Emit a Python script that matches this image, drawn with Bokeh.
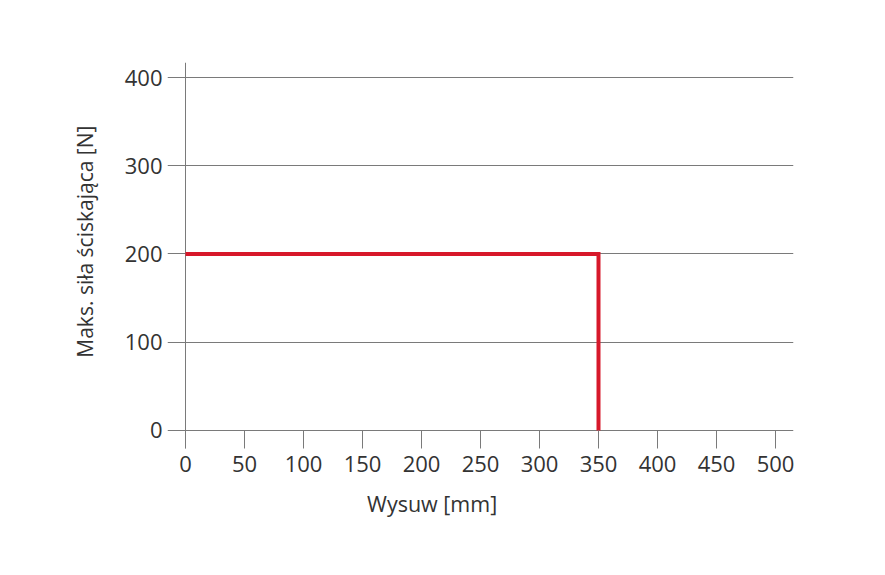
import math
from bokeh.plotting import figure
from bokeh.models import FixedTicker, Range1d, Label
from bokeh.embed import file_html
from bokeh.resources import INLINE

# data
wysuw = [0, 350, 350]
sila = [200, 200, 0]
x_ticks = [0, 50, 100, 150, 200, 250, 300, 350, 400, 450, 500]
y_ticks = [0, 100, 200, 300, 400]
x_title = "Wysuw [mm]"
y_title = "Maks. siła ściskająca [N]"

FONT = "Open Sans"
TXT = "#333333"

p = figure(width=877, height=567, output_backend="svg", toolbar_location=None,
           x_range=Range1d(-15.25, 515.25), y_range=Range1d(-20.4, 417.0),
           min_border_left=167, min_border_right=84, min_border_top=62, min_border_bottom=119)
p.outline_line_color = None
p.background_fill_color = "white"
p.border_fill_color = "white"

# grid
p.ygrid.ticker = FixedTicker(ticks=y_ticks)
p.ygrid.grid_line_color = "#7a7a7a"
p.ygrid.grid_line_width = 1
p.xgrid.ticker = FixedTicker(ticks=[0])
p.xgrid.grid_line_color = "#7a7a7a"
p.xgrid.grid_line_width = 1

# x axis
xa = p.xaxis[0]
xa.ticker = FixedTicker(ticks=x_ticks)
xa.axis_line_color = None
xa.major_tick_in = 18
xa.major_tick_out = 0
xa.major_tick_line_color = "#7a7a7a"
xa.minor_tick_line_color = None
xa.major_label_text_font = FONT
xa.major_label_text_font_size = "22px"
xa.major_label_text_color = TXT
xa.major_label_standoff = 7

# y axis
ya = p.yaxis[0]
ya.ticker = FixedTicker(ticks=y_ticks)
ya.axis_line_color = None
ya.major_tick_in = 0
ya.major_tick_out = 0
ya.minor_tick_line_color = None
ya.major_label_text_font = FONT
ya.major_label_text_font_size = "22px"
ya.major_label_text_color = TXT
ya.major_label_standoff = 5

# axis titles (placed off-centre as in the original)
p.add_layout(Label(x=209, y=-83, text=x_title, text_font=FONT, text_font_size="21.5px",
                   text_color=TXT, text_align="center", text_baseline="middle"), "below")
p.add_layout(Label(x=-85, y=214, text=y_title, text_font=FONT, text_font_size="21px",
                   text_color=TXT, text_align="center", text_baseline="middle",
                   angle=math.pi / 2), "left")

p.line(wysuw, sila, line_color="#d7182a", line_width=4, line_join="miter")

open("out.html", "w").write(file_html(p, INLINE))
